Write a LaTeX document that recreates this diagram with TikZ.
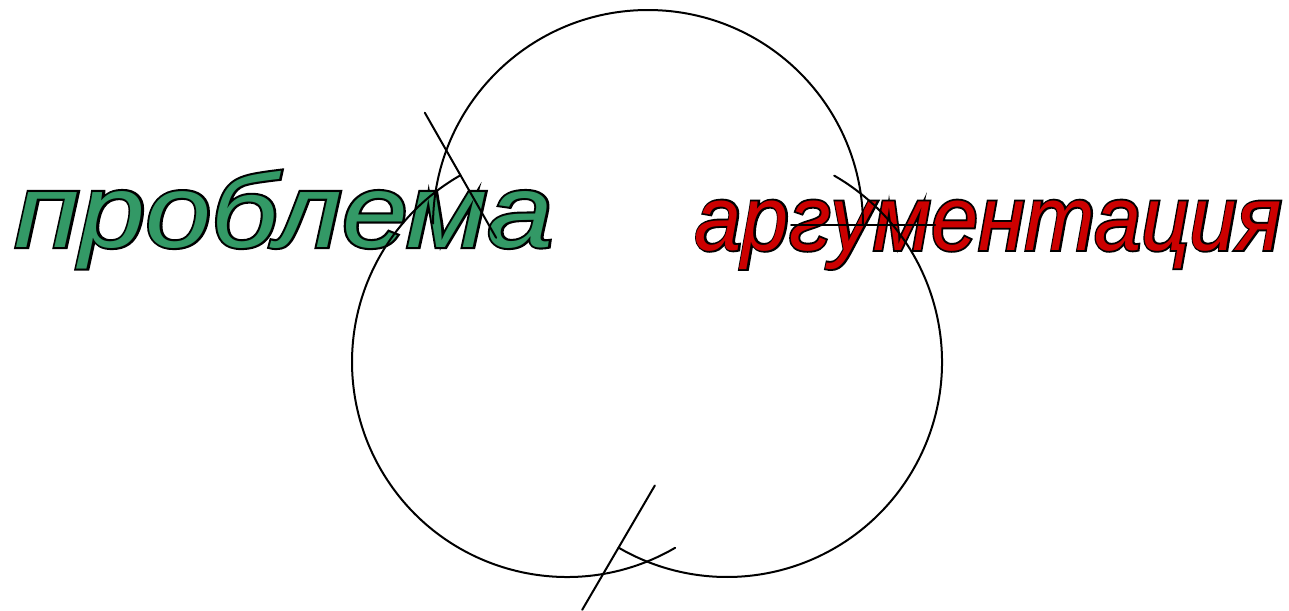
\documentclass[tikz,border=0pt]{standalone}
\usepackage{graphicx}
\usepackage{fontspec}
\setmainfont{Liberation Sans}
\definecolor{probgreen}{RGB}{51,153,102}
\definecolor{argred}{RGB}{204,0,0}
\newcommand\outlinedword[2]{\rlap{\addfontfeature{FakeBold=4}\color{black}#2}{\color{#1}#2}}
\begin{document}
\begin{tikzpicture}[x=0.5pt,y=-0.5pt,
  arcline/.style={line width=1pt,line cap=round},
  lbl/.style={inner sep=0pt,anchor=base}]
\useasboundingbox (0,0) rectangle (1289,610);
\coordinate (T) at (648,225);
\coordinate (L) at (567,362);
\coordinate (R) at (727,362);
\node[lbl,font=\fontsize{52}{52}\selectfont\itshape] (prob) at (284,247) {\scalebox{1.137}[1]{\outlinedword{probgreen}{проблема}}};
\node[lbl,font=\fontsize{46}{46}\selectfont\itshape] (arg) at (988.5,250) {\scalebox{0.92}[1]{\outlinedword{argred}{аргументация}}};
% arcs
\draw[arcline] ([shift={(180.4:215)}]T) arc[start angle=180.4,end angle=360,radius=215];
\draw[arcline] ([shift={(59.8:215)}]L) arc[start angle=59.8,end angle=240.3,radius=215];
\draw[arcline] ([shift={(-60.1:215)}]R) arc[start angle=-60.1,end angle=120.3,radius=215];
% radial bars
\draw[arcline] ([shift={(360:143)}]T) -- ([shift={(360:287)}]T);
\draw[arcline] ([shift={(240.3:143)}]L) -- ([shift={(240.3:287)}]L);
\draw[arcline] ([shift={(120.3:143)}]R) -- ([shift={(120.3:287)}]R);
\end{tikzpicture}
\end{document}
